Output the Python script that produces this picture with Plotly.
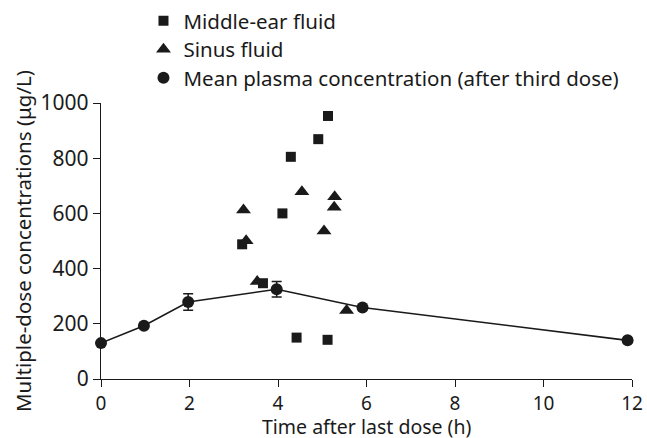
import plotly.graph_objects as go

# Middle-ear fluid (squares)
ear_x = [3.19, 3.66, 4.10, 4.29, 4.42, 4.91, 5.13, 5.12]
ear_y = [488, 347, 600, 805, 150, 869, 953, 142]

# Sinus fluid (triangles)
sinus_x = [3.22, 3.28, 3.53, 4.54, 5.04, 5.28, 5.27, 5.55]
sinus_y = [612, 501, 353, 678, 536, 660, 622, 248]

# Mean plasma concentration (circles, with error bars)
plasma_x = [0, 0.97, 1.97, 3.97, 5.91, 11.9]
plasma_y = [130, 193, 279, 325, 259, 140]
plasma_err = [0, 0, 30, 28, 0, 0]

x_ticks = [0, 2, 4, 6, 8, 10, 12]
y_ticks = [0, 200, 400, 600, 800, 1000]

x_title = "Time after last dose (h)"
y_title = "Multiple-dose concentrations (μg/L)"

FONT = "Noto Sans"
BLACK = "#1a1a1a"

fig = go.Figure()

fig.add_trace(go.Scatter(
    x=plasma_x, y=plasma_y, mode="lines",
    line=dict(color=BLACK, width=1.6), showlegend=False, cliponaxis=False,
    hoverinfo="skip"))

fig.add_trace(go.Scatter(
    x=ear_x, y=ear_y, mode="markers", name="Middle-ear fluid",
    marker=dict(symbol="square", size=10, color=BLACK), cliponaxis=False,
    legend="legend"))

fig.add_trace(go.Scatter(
    x=sinus_x, y=sinus_y, mode="markers", name="Sinus fluid",
    marker=dict(symbol="triangle-up", size=13, color=BLACK), cliponaxis=False,
    legend="legend2"))

fig.add_trace(go.Scatter(
    x=plasma_x, y=plasma_y, mode="markers",
    name="Mean plasma concentration (after third dose)",
    marker=dict(symbol="circle", size=12, color=BLACK), cliponaxis=False,
    error_y=dict(type="data", array=plasma_err, visible=True,
                 color=BLACK, thickness=1.5, width=5),
    legend="legend3"))

axis_common = dict(
    showgrid=False, zeroline=False, showline=True, linecolor=BLACK,
    linewidth=1.3, ticks="outside", ticklen=7, tickwidth=1.3,
    tickcolor=BLACK, automargin=False,
)

LEG_X = 0.080
leg_common = dict(x=LEG_X, xanchor="left", yanchor="middle",
                  itemwidth=30, font=dict(family=FONT, size=20.5, color=BLACK),
                  bgcolor="rgba(0,0,0,0)")

fig.update_layout(
    width=647, height=438,
    margin=dict(l=101, r=15, t=103, b=59, autoexpand=False),
    paper_bgcolor="white", plot_bgcolor="white",
    font=dict(family=FONT, size=20.5, color=BLACK),
    xaxis=dict(range=[0, 12], tickvals=x_ticks,
               tickfont=dict(family=FONT, size=19, color=BLACK),
               **axis_common),
    yaxis=dict(range=[0, 1000], tickvals=y_ticks,
               tickfont=dict(family=FONT, size=21, color=BLACK),
               title=dict(text=y_title, standoff=3,
                          font=dict(family=FONT, size=20.5, color=BLACK)),
               **axis_common),
    legend=dict(y=1.297, **leg_common),
    legend2=dict(y=1.194, **leg_common),
    legend3=dict(y=1.091, **leg_common),
    showlegend=True,
    annotations=[dict(text=x_title, xref="paper", yref="paper",
                      x=0.5, y=-0.171, xanchor="center", yanchor="middle",
                      showarrow=False,
                      font=dict(family=FONT, size=19.5, color=BLACK))],
)

fig.write_html("out.html")
